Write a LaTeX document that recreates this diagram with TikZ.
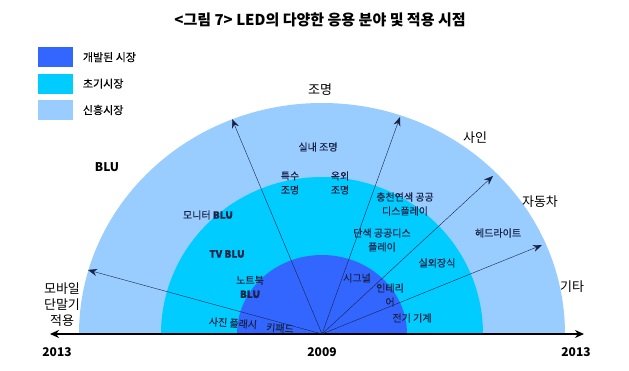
\documentclass[tikz,border=0pt]{standalone}
\usepackage{fontspec}
\setmainfont{Noto Sans CJK KR}
\newfontfamily\medkr[FakeBold=0.3]{Noto Sans CJK KR}
\usepackage{xcolor}
\usetikzlibrary{arrows.meta,positioning}

\definecolor{devblue}{RGB}{51,102,255}
\definecolor{earlycyan}{RGB}{0,204,255}
\definecolor{newblue}{RGB}{153,204,255}
\definecolor{inkblue}{RGB}{25,35,70}

\tikzset{
  lbl/.style={font=\medkr\fontsize{10}{14}\selectfont, text=inkblue, align=center, inner sep=1pt},
  biglbl/.style={font=\fontsize{13}{16}\selectfont, align=center, inner sep=1pt},
  yearlbl/.style={font=\bfseries\fontsize{12}{14}\selectfont, inner sep=1pt},
  keybox/.style={minimum width=35pt, minimum height=20pt, inner sep=0pt},
  ray/.style={-{Stealth[length=9pt,width=7pt]}, thin, color=inkblue}
}

\begin{document}
\begin{tikzpicture}[x=1pt,y=1pt]

\useasboundingbox (0,0) rectangle (629,370);

\coordinate (o) at (322,36);

% markets
\fill[newblue] (o) ++(-243,0) arc[start angle=180,end angle=0,x radius=243pt,y radius=231pt] -- cycle;
\fill[earlycyan] (o) ++(-161,0) arc[start angle=180,end angle=0,x radius=161pt,y radius=157pt] -- cycle;
\fill[devblue] (o) ++(-85,0) arc[start angle=180,end angle=0,x radius=85pt,y radius=79pt] -- cycle;

\node[font=\bfseries\fontsize{15}{17}\selectfont] (title) at (320,350) {<그림 7> LED의 다양한 응용 분야 및 적용 시점};

% legend
\node[keybox, fill=devblue, anchor=north west] (key1) at (38,323) {};
\node[keybox, fill=earlycyan, below=6pt of key1] (key2) {};
\node[keybox, fill=newblue, below=6pt of key2] (key3) {};
\node[right=6pt of key1, font=\medkr\fontsize{11}{13}\selectfont] (txt1) {개발된 시장};
\node[right=6pt of key2, font=\medkr\fontsize{11}{13}\selectfont] (txt2) {초기시장};
\node[right=6pt of key3, font=\medkr\fontsize{11}{13}\selectfont] (txt3) {신흥시장};

% axis
\coordinate (lend) at (50,36);
\coordinate (rend) at (584,36);
\draw[line width=1.8pt, {Stealth[length=9pt,width=8pt]}-{Stealth[length=9pt,width=8pt]}] (lend) -- (rend);

\coordinate (mob) at (88,100);
\coordinate (ulight) at (232,251);
\coordinate (urlight) at (400,253);
\coordinate (sign) at (493,194);
\coordinate (car) at (542,125);

\draw[ray] (o) -- (mob);
\draw[ray] (o) -- (ulight);
\draw[ray] (o) -- (urlight);
\draw[ray] (o) -- (sign);
\draw[ray] (o) -- (car);

\node[biglbl] (light) at (320,280) {조명};
\node[biglbl] (sain) at (475,232) {사인};
\node[biglbl] (auto) at (540,168) {자동차};
\node[biglbl] (etc) at (572,83) {기타};
\node[biglbl] (mobile) at (62,65) {모바일\\단말기\\적용};
\node[font=\bfseries\fontsize{12}{14}\selectfont] (blu) at (107,203) {BLU};

\node[lbl] (indoor) at (318,223) {실내 조명};
\node[lbl] (special) at (290,187) {특수\\조명};
\node[lbl] (outdoor) at (340,187) {옥외\\조명};
\node[lbl] (fullcolor) at (405,166) {충천연색 공공\\디스플레이};
\node[lbl] (mono) at (382,130) {단색 공공디스\\플레이};
\node[lbl] (headlamp) at (498,137) {헤드라이트};
\node[lbl] (deco) at (437,107) {실외장식};
\node[lbl] (monitor) at (208,155) {모니터 \textbf{BLU}};
\node[lbl] (tv) at (227,116) {\textbf{TV BLU}};
\node[lbl] (note) at (250,83) {노트북\\\textbf{BLU}};
\node[lbl] (signal) at (357,92) {시그널};
\node[lbl] (interior) at (390,75) {인테리\\어};
\node[lbl] (machine) at (412,52) {전기 기계};
\node[lbl, rotate=-4] (flash) at (233,47) {사진 플래시};
\node[lbl, rotate=-4] (keypad) at (280,42) {키패드};

\node[yearlbl] (y1) at (57,18) {2013};
\node[yearlbl] (y2) at (322,18) {2009};
\node[yearlbl] (y3) at (576,18) {2013};

\end{tikzpicture}
\end{document}
